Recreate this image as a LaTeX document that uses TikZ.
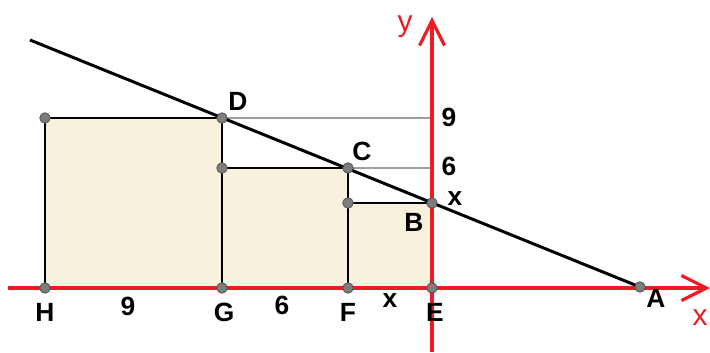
\documentclass[tikz,border=0pt]{standalone}
\usepackage{fontspec}
\setmainfont{Liberation Sans}
\usetikzlibrary{arrows.meta}
\definecolor{axisred}{RGB}{237,28,36}
\definecolor{sqfill}{RGB}{248,241,221}
\definecolor{dotgray}{RGB}{125,125,125}

\begin{document}
\begin{tikzpicture}[x=0.02cm, y=-0.02cm,
  lbl/.style={font=\bfseries\fontsize{15}{15}\selectfont},
  axlbl/.style={text=axisred, font=\fontsize{17}{17}\selectfont},
  axis/.style={axisred, line width=1.8pt, -{Straight Barb[length=0.5cm, width=0.5cm, line width=1.8pt]}},
  edge/.style={line width=1.7pt},
  guide/.style={gray!75, line width=0.6pt},
  pt/.style={circle, fill=dotgray, draw=dotgray!60!black, line width=0.4pt, inner sep=0pt, minimum size=6pt}]
\useasboundingbox (0,0) rectangle (710,352);
% points
\coordinate (H) at (45,288); \coordinate (Ht) at (45,118); \coordinate (D) at (222,118);
\coordinate (Gm) at (222,168); \coordinate (G) at (222,288); \coordinate (C) at (348,168);
\coordinate (Fm) at (348,203); \coordinate (F) at (348,288); \coordinate (B) at (432,203);
\coordinate (E) at (432,288); \coordinate (A) at (640,287); \coordinate (L) at (30,40);
\coordinate (xs) at (8,288); \coordinate (xe) at (710,288);
\coordinate (ys) at (432,352); \coordinate (ye) at (432,17);
% squares
\fill[sqfill] (H) rectangle (D); \fill[sqfill] (G) rectangle (C); \fill[sqfill] (F) rectangle (B);
\draw[guide] (D) -- (D -| E); \draw[guide] (C) -- (C -| E);
% axes
\draw[axis] (xs) -- (xe); \draw[axis] (ys) -- (ye);
\node[axlbl] (ylab) at (405,27) {y}; \node[axlbl] (xlab) at (700,318) {x};
% sides and line
\draw[edge] (H) -- (Ht) -- (D) -- (G); \draw[edge] (Gm) -- (C) -- (F); \draw[edge] (Fm) -- (B);
\draw[edge] (L) -- (A);
\foreach \p in {H,Ht,D,Gm,G,C,Fm,F,B,E,A} { \node[pt] (dot\p) at (\p) {}; }
% labels
\node[lbl] (lD) at (238,101) {D}; \node[lbl] (lC) at (362,151) {C}; \node[lbl] (lB) at (414,222) {B};
\node[lbl] (lH) at (45,312) {H}; \node[lbl] (lG) at (224,312) {G}; \node[lbl] (lF) at (348,312) {F};
\node[lbl] (lE) at (435,312) {E}; \node[lbl] (lA) at (656,298) {A};
\node[lbl] (n9a) at (449,117) {9}; \node[lbl] (n6a) at (449,166) {6}; \node[lbl] (xa) at (455,199) {x};
\node[lbl] (n9b) at (128,306) {9}; \node[lbl] (n6b) at (282,305) {6}; \node[lbl] (xb) at (390,301) {x};
\end{tikzpicture}
\end{document}
